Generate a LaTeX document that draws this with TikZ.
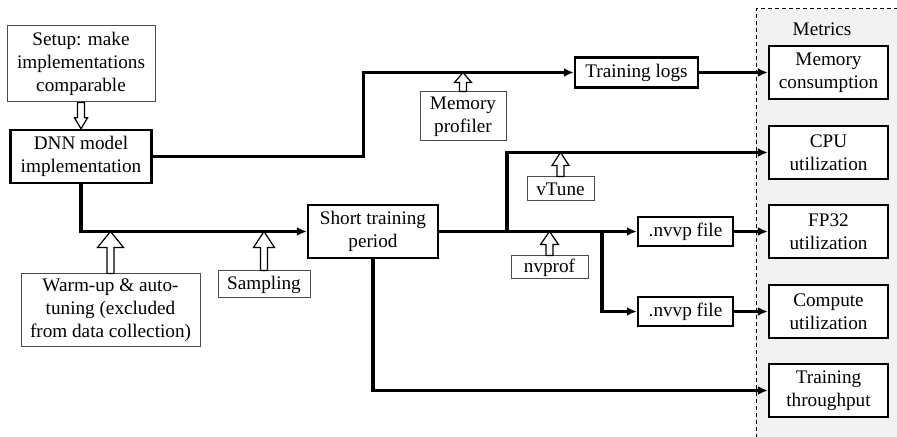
\documentclass[tikz,border=0pt]{standalone}
\usepackage{fontspec}
\setmainfont{Liberation Serif}
\newfontfamily\diagfont{Liberation Serif}
\usetikzlibrary{calc,arrows.meta}
\definecolor{panelgray}{RGB}{242,242,242}
% hollow block arrow: start, tip, head half width, head length (negative points down)
\newcommand{\hollowup}[4]{%
    \draw[black, line width=0.6pt, fill=white]
    ($(#1)+(-3.5,0)$) -- ($(#2)+(-3.5,#4)$) -- ($(#2)+(-#3,#4)$) -- (#2)
    -- ($(#2)+(#3,#4)$) -- ($(#2)+(3.5,#4)$) -- ($(#1)+(3.5,0)$) -- cycle;}

\begin{document}
\begin{tikzpicture}[x=0.5pt, y=-0.5pt,
    font=\diagfont\fontsize{9.6pt}{11.5pt}\selectfont,
    >={Latex[length=5pt,width=4.5pt]},
    box/.style={draw, line width=1.2pt, align=center, inner sep=0pt},
    note/.style={draw=black!70, line width=0.5pt, align=center, inner sep=0pt},
    flow/.style={->, line width=1.6pt}]
    \useasboundingbox (0,0) rectangle (897,437);
    % Metrics panel
    \fill[panelgray] (756,9) rectangle (905,445);
    \draw[dashed, dash pattern=on 2pt off 1.5pt, line width=0.5pt]
        (756,445) -- (756,9) -- (905,9);
    \node (MetricsLabel) at (822,29) {Metrics};
    % Input side
    \node [note,
        minimum width=74pt,
        minimum height=38pt
    ]  (Setup) at (81,64) {Setup: make\\implementations\\comparable};
    \node [box,
        minimum width=70.5pt,
        minimum height=26.5pt
    ]  (Model) at (81,156.5) {DNN model\\implementation};
    \node [note,
        minimum width=89.5pt,
        minimum height=36.5pt
    ]  (Warmup) at (110.5,310.5) {Warm-up \& auto-\\tuning (excluded\\from data collection)};
    \node [note,
        minimum width=46pt,
        minimum height=13.5pt
    ]  (Sampling) at (264,284.5) {Sampling};
    \node [box,
        minimum width=65pt,
        minimum height=26.5pt
    ]  (ShortTrain) at (373,231.5) {Short training\\period};
    % Tools
    \node [note,
        minimum width=43pt,
        minimum height=24.5pt
    ]  (Profiler) at (463,116.5) {Memory\\profiler};
    \node [note,
        minimum width=33.5pt,
        minimum height=12pt
    ]  (VTune) at (560.5,189) {vTune};
    \node [note,
        minimum width=38.5pt,
        minimum height=11.5pt
    ]  (Nvprof) at (549.5,267.5) {nvprof};
    % Intermediate files
    \node [box,
        minimum width=61.5pt,
        minimum height=15pt
    ]  (Logs) at (636.5,72.5) {Training logs};
    \node [box,
        minimum width=47.5pt,
        minimum height=14.5pt
    ]  (Nvvp1) at (685.5,231.5) {.nvvp file};
    \node [box,
        minimum width=47.5pt,
        minimum height=14.5pt
    ]  (Nvvp2) at (685.5,311.5) {.nvvp file};
    % Metrics
    \node [box, fill=white,
        minimum width=59.5pt,
        minimum height=26.5pt
    ]  (Metric1) at (828.5,72.5) {Memory\\consumption};
    \node [box, fill=white,
        minimum width=59.5pt,
        minimum height=26.5pt
    ]  (Metric2) at (828.5,152.5) {CPU\\utilization};
    \node [box, fill=white,
        minimum width=59.5pt,
        minimum height=26.5pt
    ]  (Metric3) at (828.5,231.5) {FP32\\utilization};
    \node [box, fill=white,
        minimum width=59.5pt,
        minimum height=26.5pt
    ]  (Metric4) at (828.5,311.5) {Compute\\utilization};
    \node [box, fill=white,
        minimum width=59.5pt,
        minimum height=26.5pt
    ]  (Metric5) at (828.5,390.5) {Training\\throughput};
    % Branch points
    \coordinate (Branch1) at (507,231.5);
    \coordinate (Branch2) at (602,231.5);
    % Flow arrows
    \draw[flow] (Model.east) -- ++(211,0) |- (Logs.west);
    \draw[flow] (Logs.east) -- (Metric1.west);
    \draw[flow] (Model.south) |- (ShortTrain.west);
    \draw[flow] (ShortTrain.east) -- (Nvvp1.west);
    \draw[flow] (Branch1) |- (Metric2.west);
    \draw[flow] (Branch2) |- (Nvvp2.west);
    \draw[flow] (Nvvp1.east) -- (Metric3.west);
    \draw[flow] (Nvvp2.east) -- (Metric4.west);
    \draw[flow] (ShortTrain.south) |- (Metric5.west);
    % Hollow arrows
    \hollowup{Setup.south}{Setup.south |- Model.north}{6.5}{-11}
    \hollowup{Warmup.north}{Warmup.north |- ShortTrain.west}{13}{16}
    \hollowup{Sampling.north}{Sampling.north |- ShortTrain.west}{10.5}{16}
    \hollowup{Profiler.north}{Profiler.north |- Logs.west}{8.5}{10}
    \hollowup{VTune.north}{VTune.north |- Metric2.west}{8.5}{13}
    \hollowup{Nvprof.north}{Nvprof.north |- Nvvp1.west}{9}{13}
\end{tikzpicture}
\end{document}
